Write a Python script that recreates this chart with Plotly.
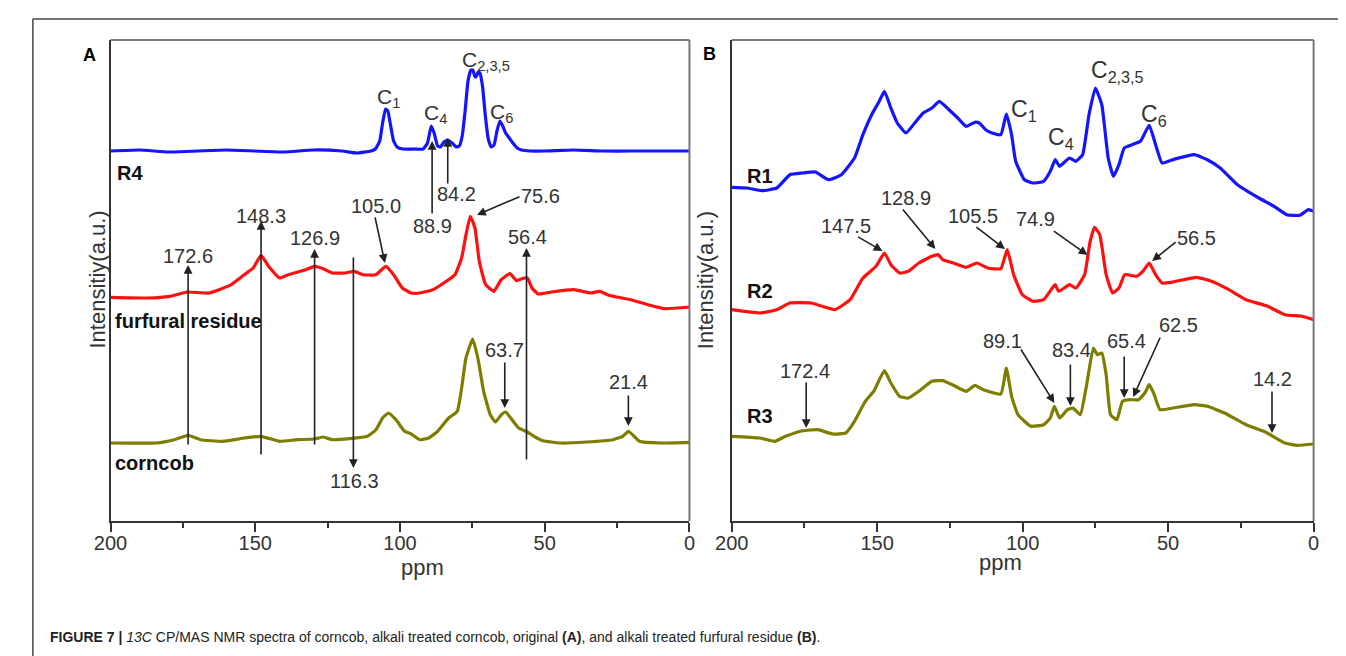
import plotly.graph_objects as go

# ---------------- data (ppm, intensity a.u.) ----------------
# Panel A
a_r4_ppm = [200, 190, 180, 170, 160, 150, 140, 130, 120, 115, 110, 108.5, 107, 106, 105, 104.2, 103.2, 102.2, 101, 99, 95, 92,
            90.5, 89.2, 88.2, 87, 86, 84.8, 83.5, 82, 80.5, 79.5, 78.5, 77.5, 76.5, 75.5, 74.8, 74.2, 73.7, 73, 72.4, 71.5,
            70.5, 69.5, 68.5, 67.5, 66.5, 65.5, 64.5, 63.5, 62.5, 61, 59.5, 58, 55, 50, 40, 30, 20, 10, 0]
a_r4_int = [370, 371, 369, 370, 371, 370, 369, 371, 370, 368, 370, 372, 380, 398, 412, 410, 395, 380, 374, 372, 372, 372,
            378, 395, 388, 375, 374, 379, 381, 378, 374, 375, 385, 410, 440, 451, 451, 445, 444, 449, 448, 435,
            405, 382, 374, 376, 390, 400, 395, 388, 384, 378, 373, 371, 370, 370, 371, 370, 370, 370, 370]

a_fur_ppm = [200, 187.1, 179.5, 173.5, 165.9, 158.3, 153.0, 150.7, 148.0, 145.4, 141.6, 138.6, 132.5, 129.5, 126.5, 123.4,
             118.9, 115.8, 112.8, 108.3, 104.9, 102.2, 99.2, 96.1, 93.1, 88.6, 84.0, 81.0, 78.7, 77.2, 75.7, 74.1, 72.6,
             70.4, 67.6, 65.0, 62.0, 59.7, 57.9, 56.0, 54.4, 52.2, 47.6, 40.0, 34.0, 30.9, 27.9, 20.3, 14.3, 8.2, 0]
a_fur_int = [223.7, 223, 224.7, 229, 228, 236.3, 248, 253, 265.7, 254.7, 243, 246.3, 251.3, 254.7, 252.3, 248,
             248, 249.7, 246.3, 246.3, 254.7, 246.3, 233, 228, 228, 231.3, 239.7, 246.3, 263, 286.3, 304.7, 293, 259.7,
             236.3, 229.7, 241.3, 247.3, 240.3, 242.3, 243, 233, 227, 229, 231.3, 228, 229.7, 225.7, 221.3, 216.3, 212.3, 214]

a_cob_ppm = [200, 184.1, 178.0, 173.2, 168.9, 161.3, 153.8, 148.0, 141.6, 135.6, 129.5, 126.5, 123.4, 117.4, 111.3, 108.3,
             106.0, 104.0, 101.4, 98.4, 96.1, 93.1, 90.1, 87.0, 83.2, 80.2, 78.7, 77.2, 74.9, 73.1, 71.1, 68.8, 67.0,
             65.0, 63.5, 61.3, 59.0, 56.0, 53.7, 50.6, 44.6, 35.5, 26.4, 23.0, 21.1, 19.1, 17.3, 9.7, 0]
a_cob_int = [78, 78, 81.3, 85.7, 81.3, 79.7, 83, 84.7, 79.7, 81.3, 82, 84, 81.3, 82.3, 84.7, 91.3,
             103, 108, 101.3, 89.7, 87, 81.3, 83, 89.7, 103, 109.7, 133, 163, 182, 163, 129.7, 106.3, 99,
             106.3, 109, 101.3, 93, 89, 84.7, 80.3, 78, 79, 81.3, 84.7, 89.7, 84.7, 79.7, 78, 78.7]

# Panel B
b_r1_ppm = [200, 194.8, 189.7, 184.5, 180.0, 175.6, 171.2, 166.7, 162.3, 157.8, 154.9, 151.9, 149.3, 147.5, 145.3, 143.1,
            140.1, 137.1, 134.2, 131.2, 128.6, 125.3, 122.3, 119.4, 116.4, 114.9, 112.7, 110.5, 107.5, 105.6, 103.8,
            102.4, 99.4, 96.4, 92.8, 90.5, 88.8, 87.3, 83.9, 81.7, 79.4, 77.2, 75.0, 72.8, 70.6, 68.8, 66.9, 65.1,
            62.4, 59.5, 56.5, 54.3, 52.1, 48.4, 41.0, 36.5, 32.1, 26.2, 18.8, 13.6, 9.2, 4.7, 1.8, 0]
b_r1_int = [333.7, 333, 330.3, 333, 346.3, 348, 349, 341.3, 346.3, 363, 386.3, 406.3, 419.7, 429.7, 413, 398,
            388, 398, 408, 413, 419.7, 411.3, 403, 394.7, 398.7, 398, 391.3, 388, 386.3, 407, 386.3,
            359.7, 341.3, 338, 339.7, 349.7, 361.3, 354.7, 363, 359.7, 366.3, 406.3, 433, 416.3, 363, 344.7, 356.3, 373,
            376.3, 379.7, 395.7, 376.3, 358, 361.3, 366.3, 361.3, 353, 336.3, 323, 314.7, 306.3, 305.7, 311.3, 309.7]

b_r2_ppm = [200, 190.4, 184.5, 180.0, 172.6, 168.9, 164.5, 159.3, 154.9, 150.4, 147.5, 145.3, 142.3, 139.3, 135.7, 131.2,
            129.0, 127.5, 123.8, 119.4, 115.7, 112.0, 107.5, 105.3, 103.1, 100.1, 96.4, 92.8, 89.8, 88.8, 87.6, 83.9,
            81.7, 78.7, 76.8, 75.3, 73.5, 71.3, 69.1, 66.9, 64.9, 60.9, 58.7, 56.5, 54.3, 52.1, 48.4, 40.2, 35.1,
            29.1, 23.2, 15.8, 9.9, 4.0, 0]
b_r2_int = [211.3, 208, 211.3, 218, 218, 214.7, 211.3, 221.3, 243, 254.7, 268, 256.3, 248, 249.7, 258, 264.7,
            266.3, 261.3, 258, 253.7, 258, 253, 252.3, 271.3, 246.3, 226.3, 219.7, 221.3, 233, 236.3, 229.7, 236.3,
            233, 246.3, 279.7, 293.7, 286.3, 246.3, 228, 233, 246.3, 244.7, 249.7, 258, 246.3, 238, 239, 243.7, 239.7,
            231.3, 221.3, 214.7, 206.3, 204.7, 201.3]

b_r3_ppm = [200, 190.4, 185.2, 181.5, 175.6, 170.4, 165.2, 160.8, 157.8, 154.1, 151.2, 147.5, 145.3, 142.3, 139.3, 135.7,
            131.2, 127.5, 123.8, 119.4, 116.4, 113.5, 107.5, 105.6, 103.8, 101.6, 97.2, 92.8, 90.5, 89.1, 87.3, 84.6,
            82.7, 80.2, 78.0, 75.7, 74.3, 72.8, 71.3, 69.8, 67.6, 65.7, 63.2, 60.2, 58.0, 56.5, 55.0, 52.8, 48.4,
            41.0, 36.5, 30.6, 23.2, 16.6, 9.9, 5.5, 0]
b_r3_int = [84.7, 83, 79.7, 84.7, 90.3, 91.3, 87, 88, 99.7, 119.7, 129.7, 150.3, 138, 124.7, 123, 129.7,
            139.7, 140.3, 135.7, 129.7, 135.7, 131.3, 127, 153, 124.7, 106.3, 94.7, 96.3, 103, 114.7, 103, 111.3,
            113, 106.3, 136.3, 173, 166.3, 168, 146.3, 106.3, 101.3, 119.7, 121.3, 121.3, 128, 136.3, 128, 111.3, 113,
            116.3, 114.7, 108, 96.3, 89, 78, 75.7, 77]

# Peak labels (text) and carbon labels
a_peak_labels = ["172.6", "148.3", "126.9", "116.3", "56.4", "105.0", "75.6", "88.9", "84.2", "63.7", "21.4"]
b_peak_labels = ["147.5", "128.9", "105.5", "74.9", "56.5", "172.4", "89.1", "83.4", "65.4", "62.5", "14.2"]
carbon_labels = ["C<sub>1</sub>", "C<sub>4</sub>", "C<sub>2,3,5</sub>", "C<sub>6</sub>"]
tick_vals = [0, 50, 100, 150, 200]

# ---------------- layout positions (ppm, a.u.) ----------------
# arrows: (tip_x, tip_y, tail_x, tail_y)
a_arrows = [(173.2, 256, 173.2, 75), (148.0, 300, 148.0, 65), (129.5, 272, 129.5, 75), (116.1, 53, 116.1, 265),
            (56.3, 273, 56.3, 60), (105.2, 258, 108.7, 305), (73.4, 306, 58.2, 325), (88.9, 380, 88.9, 306),
            (83.5, 383, 83.5, 336), (63.8, 113, 63.8, 160), (21.1, 95, 21.1, 127)]
a_label_pos = [(173.2, 265), (148.0, 305), (129.4, 283), (115.8, 40), (56.0, 284), (108.3, 315), (51.4, 325),
               (88.6, 295), (80.5, 327), (63.8, 171), (21.1, 139)]
b_arrows = [(148.2, 270, 157.1, 285), (130.0, 272, 141.6, 313), (106.1, 272, 116.4, 295), (77.7, 266, 89.8, 291),
            (55.5, 260, 46.9, 280), (174.4, 93, 174.4, 140), (89.1, 118, 100.9, 173), (83.6, 115, 83.6, 158),
            (65.1, 123, 65.1, 166), (62.0, 124, 52.5, 185), (14.3, 88, 14.3, 131)]
b_label_pos = [(160.8, 295), (140.1, 323), (117.2, 305), (95.7, 302), (40.2, 283), (174.9, 150), (106.8, 180),
               (83.1, 171), (64.3, 180), (46.6, 196), (14.1, 142)]
a_carbon_pos = [(103.9, 423), (87.9, 407), (70.3, 460), (64.9, 408)]
b_carbon_pos = [(99.4, 411), (86.8, 383), (67.6, 450), (55.0, 406)]

FONT = "Liberation Sans, Arial, sans-serif"
BLUE, RED, OLIVE = "#1414ff", "#ff1010", "#7d7d00"

fig = go.Figure()
for x, y, c, ax in [(a_r4_ppm, a_r4_int, BLUE, "x"), (a_fur_ppm, a_fur_int, RED, "x"), (a_cob_ppm, a_cob_int, OLIVE, "x"),
                    (b_r1_ppm, b_r1_int, BLUE, "x2"), (b_r2_ppm, b_r2_int, RED, "x2"), (b_r3_ppm, b_r3_int, OLIVE, "x2")]:
    fig.add_trace(go.Scatter(x=x, y=y, mode="lines", line=dict(color=c, width=3.2, shape="spline", smoothing=0.4),
                             xaxis=ax, yaxis="y" if ax == "x" else "y2", showlegend=False, hoverinfo="skip"))

W, H = 1346, 656
def px(v): return v / W
def py(v): return (H - v) / H

xcommon = dict(range=[200, 0], tickvals=tick_vals, ticks="outside", ticklen=9, tickwidth=2, tickcolor="#333",
               showline=True, linecolor="#333", linewidth=2, showgrid=False, zeroline=False,
               tickfont=dict(family=FONT, size=20, color="#333"), ticklabelstandoff=-6,
               minor=dict(ticks="outside", ticklen=5, tickwidth=1.5, tickcolor="#333", dtick=25, tick0=0, showgrid=False))
ycommon = dict(range=[0, 481], showticklabels=False, ticks="", showline=True, linecolor="#333", linewidth=2,
               showgrid=False, zeroline=False)

fig.update_layout(
    width=W, height=H, margin=dict(l=0, r=0, t=0, b=0), paper_bgcolor="white", plot_bgcolor="white",
    xaxis=dict(domain=[px(87), px(676)], anchor="y", **xcommon),
    xaxis2=dict(domain=[px(719), px(1311)], anchor="y2", **xcommon),
    yaxis=dict(domain=[py(513), py(32)], anchor="x", **ycommon),
    yaxis2=dict(domain=[py(513), py(32)], anchor="x2", **ycommon),
)

shapes = []
for xr, yr in [("x domain", "y domain"), ("x2 domain", "y2 domain")]:
    shapes.append(dict(type="line", xref=xr, yref=yr, x0=0, x1=1, y0=1, y1=1, line=dict(color="#777", width=2)))
    shapes.append(dict(type="line", xref=xr, yref=yr, x0=1, x1=1, y0=0, y1=1, line=dict(color="#777", width=2)))
# outer figure frame (top and left)
shapes.append(dict(type="line", xref="paper", yref="paper", x0=px(8), x1=1, y0=py(11), y1=py(11), line=dict(color="#444", width=1.5)))
shapes.append(dict(type="line", xref="paper", yref="paper", x0=px(8), x1=px(8), y0=py(11), y1=py(648), line=dict(color="#444", width=1.5)))
fig.update_layout(shapes=shapes)

anns = []
def arrows(lst, xa, ya):
    for tx, ty, sx, sy in lst:
        anns.append(dict(x=tx, y=ty, ax=sx, ay=sy, xref=xa, yref=ya, axref=xa, ayref=ya, text="", showarrow=True,
                         arrowhead=2, arrowsize=1.1, arrowwidth=1.6, arrowcolor="#222"))
def labels(texts, pos, xa, ya, size=20, color="#333"):
    for t, (x, y) in zip(texts, pos):
        anns.append(dict(x=x, y=y, xref=xa, yref=ya, text=t, showarrow=False, font=dict(family=FONT, size=size, color=color)))

arrows(a_arrows, "x", "y")
arrows(b_arrows, "x2", "y2")
labels(a_peak_labels, a_label_pos, "x", "y")
labels(b_peak_labels, b_label_pos, "x2", "y2")
labels(carbon_labels, a_carbon_pos, "x", "y", size=21)
labels(carbon_labels, b_carbon_pos, "x2", "y2", size=23)

for t, x, y, xa, ya in [("R4", 198.5, 348, "x", "y"), ("furfural residue", 199.3, 200, "x", "y"), ("corncob", 199.3, 58, "x", "y"),
                        ("R1", 195.6, 345, "x2", "y2"), ("R2", 195.6, 230, "x2", "y2"), ("R3", 195.6, 105, "x2", "y2")]:
    anns.append(dict(x=x, y=y, xref=xa, yref=ya, text="<b>" + t + "</b>", showarrow=False, xanchor="left",
                     font=dict(family=FONT, size=20, color="#111")))

# panel letters, axis titles, caption
for t, x, y in [("A", 57, 35), ("B", 696, 34)]:
    anns.append(dict(x=px(x), y=py(y), xref="paper", yref="paper", text="<b>" + t + "</b>", showarrow=False,
                     font=dict(family=FONT, size=18, color="#000")))
for x in [58, 692]:
    anns.append(dict(x=px(x), y=py(272), xref="paper", yref="paper", text="Intensitiy(a.u.)", textangle=-90,
                     showarrow=False, font=dict(family=FONT, size=22, color="#333")))
for x, y in [(380, 574), (1016, 569)]:
    anns.append(dict(x=px(x), y=py(y), xref="paper", yref="paper", text="ppm", showarrow=False,
                     font=dict(family=FONT, size=22, color="#333")))
anns.append(dict(x=px(23), y=py(639), xref="paper", yref="paper", xanchor="left", showarrow=False,
                 text="<b>FIGURE 7 |</b> <i>13C</i> CP/MAS NMR spectra of corncob, alkali treated corncob, original <b>(A)</b>, and alkali treated furfural residue <b>(B)</b>.",
                 font=dict(family=FONT, size=14, color="#222")))
fig.update_layout(annotations=anns)

fig.write_html("out.html")
